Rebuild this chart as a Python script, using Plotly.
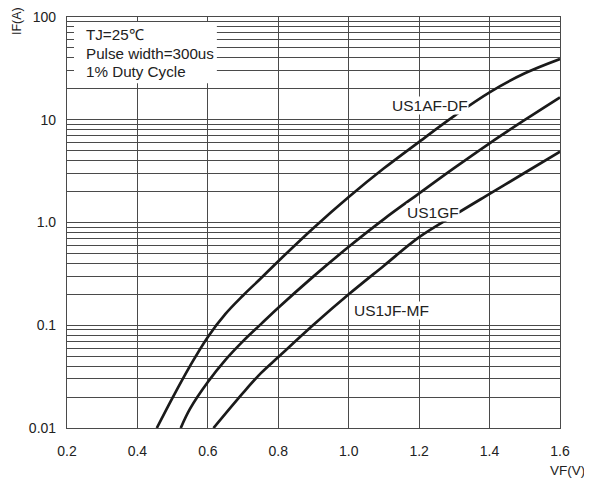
import math
import plotly.graph_objects as go

# Data (VF in volts, IF in amperes)
vf_ad = [0.455, 0.50, 0.55, 0.60, 0.65, 0.70, 0.75, 0.80, 0.90, 1.00, 1.10, 1.20, 1.30, 1.40, 1.50, 1.60]
if_ad = [0.010, 0.0198, 0.0405, 0.077, 0.129, 0.195, 0.285, 0.42, 0.885, 1.77, 3.37, 6.1, 10.9, 18.5, 28.3, 39.0]

vf_g = [0.523, 0.55, 0.60, 0.65, 0.70, 0.75, 0.80, 0.90, 1.00, 1.10, 1.20, 1.30, 1.40, 1.50, 1.60]
if_g = [0.010, 0.0155, 0.028, 0.046, 0.070, 0.102, 0.148, 0.299, 0.58, 1.08, 1.92, 3.4, 5.9, 9.95, 16.5]

vf_jm = [0.616, 0.70, 0.75, 0.80, 0.90, 1.00, 1.10, 1.20, 1.30, 1.40, 1.50, 1.60]
if_jm = [0.010, 0.022, 0.034, 0.049, 0.101, 0.20, 0.38, 0.72, 1.18, 1.90, 3.05, 4.9]

series_names = ["US1AF-DF", "US1GF", "US1JF-MF"]
label_vf = [1.232, 1.238, 1.122]
label_if = [13.9, 1.24, 0.1407]

x_ticks = [0.2, 0.4, 0.6, 0.8, 1.0, 1.2, 1.4, 1.6]
y_ticks = [0.01, 0.1, 1, 10, 100]
y_ticktext = ["0.01", "0.1", "1.0", "10", "100"]
y_minor = [m * 10 ** e for e in range(-2, 2) for m in range(2, 10)]

conditions = ["TJ=25\u2103", "Pulse width=300us", "1% Duty Cycle"]

FONT = "Liberation Sans, Arial, sans-serif"
GRID = "#4a4a4a"
TXT = "#222222"

fig = go.Figure()
for xs, ys in [(vf_ad, if_ad), (vf_g, if_g), (vf_jm, if_jm)]:
    fig.add_trace(go.Scatter(x=xs, y=ys, mode="lines",
                             line=dict(color="#1a1a1a", width=2.7, shape="spline", smoothing=1.0),
                             showlegend=False, hoverinfo="skip"))

for name, lx, ly in zip(series_names, label_vf, label_if):
    fig.add_annotation(x=lx, y=math.log10(ly), yref="y", xref="x", text=name, showarrow=False,
                       font=dict(family=FONT, size=15.5, color=TXT),
                       bgcolor="white", borderpad=0)

# white box behind the test conditions
fig.add_shape(type="rect", xref="paper", yref="paper", x0=0.0142, x1=0.304, y0=0.839, y1=0.988,
              fillcolor="white", line=dict(width=0), layer="above")
for txt, yy in zip(conditions, [0.9586, 0.9124, 0.8686]):
    fig.add_annotation(x=0.0345, y=yy, xref="paper", yref="paper", xanchor="left", yanchor="middle",
                       text=txt, showarrow=False, font=dict(family=FONT, size=15.2, color=TXT))

fig.add_annotation(x=-0.1014, y=0.9903, xref="paper", yref="paper", xanchor="center", yanchor="middle",
                   text="IF(A)", textangle=-90, showarrow=False,
                   font=dict(family=FONT, size=12.5, color=TXT))
fig.add_annotation(x=1.0142, y=-0.1022, xref="paper", yref="paper", xanchor="center", yanchor="middle",
                   text="VF(V)", showarrow=False,
                   font=dict(family=FONT, size=13.5, color=TXT))

fig.update_xaxes(range=[0.2, 1.6], tickvals=x_ticks, tickformat=".1f", automargin=False,
                 showgrid=True, gridcolor=GRID, gridwidth=1,
                 showline=True, linecolor=GRID, linewidth=1.2, mirror=True,
                 ticks="", ticklabelstandoff=10, zeroline=False,
                 tickfont=dict(family=FONT, size=14, color=TXT))
fig.update_yaxes(type="log", range=[-2, 2], tickvals=y_ticks, ticktext=y_ticktext, automargin=False,
                 showgrid=True, gridcolor=GRID, gridwidth=1,
                 minor=dict(tickvals=y_minor, showgrid=True, gridcolor=GRID, gridwidth=1, ticks=""),
                 showline=True, linecolor=GRID, linewidth=1.2, mirror=True,
                 ticks="", ticklabelstandoff=7, zeroline=False,
                 tickfont=dict(family=FONT, size=14, color=TXT))

fig.update_layout(width=592, height=482,
                  margin=dict(l=59, r=40, t=9, b=62, autoexpand=False),
                  paper_bgcolor="white", plot_bgcolor="white",
                  font=dict(family=FONT))

fig.write_html("out.html")
